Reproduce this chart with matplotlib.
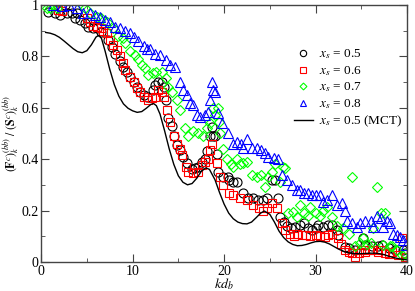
import matplotlib
matplotlib.use("Agg")
import matplotlib.pyplot as plt

plt.rcParams['font.family'] = ['Liberation Serif', 'DejaVu Serif']
plt.rcParams['mathtext.fontset'] = 'stix'

# x_s = 0.5 (black circles)
k_05 = [0.8, 1.5, 2.1, 2.6, 2.8, 3.4, 3.7, 3.9, 4.3, 4.8, 5.1, 5.7, 6.1, 6.6, 7.3, 7.8,
        8.1, 8.6, 9.0, 9.4, 9.7, 10.1, 10.5, 10.8, 11.2, 11.6, 12.2, 12.5, 12.8, 13.2,
        13.4, 13.7, 13.9, 14.3, 14.5, 14.8, 15.2, 15.5, 16.0, 16.5, 16.8, 17.2, 17.6,
        17.9, 18.1, 18.5, 18.7, 18.8, 19.0, 19.2, 19.3, 19.9, 20.4, 20.5, 21.0, 21.4,
        22.1, 22.6, 23.2, 23.7, 24.3, 24.7, 25.2, 25.6, 25.9, 26.1, 26.6, 26.9, 27.3,
        27.7, 28.3, 28.7, 29.2, 29.6, 30.0, 30.3, 30.8, 31.4, 31.8, 32.3, 32.5, 33.2,
        33.6, 34.3, 35.2, 35.4, 36.2, 36.8, 37.3, 38.0, 38.7, 39.5, 39.8]
f_05 = [0.973, 0.97, 0.96, 1.0, 0.97, 0.97, 0.95, 0.97, 0.94, 0.93, 0.915, 0.91, 0.91,
        0.895, 0.864, 0.837, 0.81, 0.78, 0.76, 0.74, 0.72, 0.70, 0.68, 0.66, 0.65, 0.64,
        0.67, 0.69, 0.70, 0.70, 0.68, 0.63, 0.56, 0.53, 0.49, 0.455, 0.436, 0.41, 0.385,
        0.36, 0.366, 0.37, 0.39, 0.40, 0.43, 0.49, 0.525, 0.49, 0.49, 0.42, 0.35, 0.33,
        0.33, 0.32, 0.31, 0.31, 0.27, 0.25, 0.25, 0.24, 0.24, 0.25, 0.32, 0.32, 0.25,
        0.175, 0.155, 0.14, 0.13, 0.136, 0.145, 0.15, 0.13, 0.125, 0.13, 0.145, 0.136,
        0.145, 0.145, 0.125, 0.105, 0.058, 0.055, 0.047, 0.093, 0.066, 0.06, 0.062,
        0.066, 0.055, 0.047, 0.047, 0.035]

# x_s = 0.6 (red squares)
k_06 = [1.9, 2.3, 5.0, 5.4, 5.7, 6.1, 6.5, 6.8, 7.2, 7.5, 7.9, 8.3, 8.6, 8.9, 9.2, 9.7,
        10.1, 10.5, 10.8, 11.2, 11.7, 12.1, 12.5, 12.8, 13.2, 13.4, 13.8, 14.1, 14.5,
        14.8, 15.2, 15.4, 15.8, 16.1, 16.6, 17.2, 17.6, 17.9, 18.2, 18.5, 18.7, 19.2,
        19.6, 19.9, 20.5, 21.0, 21.7, 22.5, 23.2, 23.8, 24.3, 24.7, 25.2, 25.8, 26.3,
        26.7, 27.2, 27.6, 28.0, 28.5, 28.9, 29.4, 30.0, 30.5, 31.0, 31.4, 31.8, 32.4,
        32.8, 33.2, 33.6, 34.0, 34.3, 34.7, 35.0, 35.4, 35.8, 36.2, 36.8, 37.2, 37.6,
        38.0, 38.4, 39.0, 39.4, 39.8, 40.0]
f_06 = [0.98, 0.975, 0.95, 0.935, 0.92, 0.915, 0.91, 0.90, 0.89, 0.864, 0.845, 0.825,
        0.80, 0.774, 0.747, 0.72, 0.70, 0.677, 0.66, 0.64, 0.63, 0.638, 0.64, 0.67, 0.66,
        0.64, 0.59, 0.545, 0.49, 0.46, 0.44, 0.415, 0.37, 0.35, 0.345, 0.35, 0.377, 0.39,
        0.40, 0.436, 0.46, 0.385, 0.33, 0.30, 0.27, 0.26, 0.25, 0.24, 0.22, 0.21, 0.20,
        0.21, 0.23, 0.21, 0.15, 0.125, 0.11, 0.10, 0.11, 0.105, 0.105, 0.10, 0.105, 0.10,
        0.097, 0.105, 0.11, 0.093, 0.07, 0.047, 0.04, 0.035, 0.02, 0.035, 0.045, 0.04,
        0.045, 0.047, 0.04, 0.045, 0.035, 0.03, 0.04, 0.027, 0.093, 0.02, 0.005]

# x_s = 0.7 (green diamonds)
k_07 = [0.6, 1.0, 1.3, 1.7, 4.5, 4.8, 5.3, 6.1, 6.6, 7.2, 7.9, 8.4, 8.9, 9.2, 9.7, 10.3,
        10.6, 11.0, 11.4, 11.7, 12.2, 12.6, 13.2, 13.6, 13.9, 14.3, 14.8, 15.2, 15.7,
        16.1, 16.6, 17.2, 17.7, 18.1, 18.5, 18.8, 19.0, 19.3, 19.4, 19.6, 19.9, 20.3,
        20.7, 21.0, 21.4, 21.7, 22.1, 22.5, 23.0, 23.6, 24.0, 24.5, 24.8, 25.2, 25.6,
        26.1, 26.4, 26.7, 27.0, 27.5, 28.0, 28.3, 28.7, 29.2, 29.4, 30.0, 30.5, 30.8,
        31.2, 31.8, 32.3, 33.0, 33.6, 34.0, 34.3, 34.8, 35.2, 35.6, 36.0, 36.3, 36.7,
        37.1, 37.4, 37.6, 38.1, 38.4, 38.9, 39.4, 39.8]
f_07 = [0.99, 0.99, 1.0, 0.99, 1.0, 0.99, 0.97, 0.955, 0.95, 0.935, 0.91, 0.88, 0.87,
        0.85, 0.82, 0.805, 0.79, 0.766, 0.755, 0.728, 0.735, 0.74, 0.74, 0.715, 0.68,
        0.66, 0.63, 0.59, 0.52, 0.49, 0.51, 0.50, 0.49, 0.52, 0.54, 0.60, 0.57, 0.60,
        0.545, 0.50, 0.44, 0.40, 0.38, 0.37, 0.40, 0.38, 0.385, 0.39, 0.34, 0.33, 0.34,
        0.29, 0.33, 0.35, 0.38, 0.31, 0.37, 0.365, 0.19, 0.195, 0.175, 0.22, 0.19, 0.18,
        0.215, 0.19, 0.18, 0.20, 0.215, 0.175, 0.14, 0.13, 0.11, 0.33, 0.06, 0.075,
        0.093, 0.07, 0.074, 0.13, 0.29, 0.19, 0.066, 0.19, 0.06, 0.06, 0.047, 0.027, 0.03]

# x_s = 0.8 (blue triangles)
k_08 = [1.3, 2.3, 3.0, 3.9, 4.6, 5.4, 5.9, 6.4, 7.0, 7.5, 8.1, 8.6, 9.2, 9.7, 10.1,
        10.6, 11.2, 11.6, 11.9, 12.5, 13.0, 13.6, 14.1, 14.6, 15.2, 15.5, 15.9, 16.3,
        16.6, 17.0, 17.4, 17.9, 18.2, 18.5, 18.7, 18.8, 19.0, 19.3, 19.8, 20.4, 21.0,
        21.4, 21.8, 22.1, 22.5, 23.0, 23.6, 24.0, 24.5, 24.8, 25.4, 25.9, 26.3, 26.9,
        27.4, 28.0, 28.3, 28.7, 29.2, 29.6, 30.0, 30.5, 30.8, 31.2, 31.8, 32.3, 32.9,
        33.2, 33.4, 34.0, 34.5, 34.9, 35.4, 36.0, 36.3, 36.7, 37.1, 37.4, 37.8, 38.1,
        38.5, 38.9, 39.2, 39.6, 39.9]
f_08 = [1.0, 0.995, 1.0, 0.99, 0.97, 0.97, 0.96, 0.955, 0.94, 0.935, 0.915, 0.91, 0.90,
        0.89, 0.875, 0.86, 0.84, 0.83, 0.83, 0.81, 0.805, 0.786, 0.767, 0.76, 0.70, 0.67,
        0.65, 0.62, 0.61, 0.57, 0.565, 0.57, 0.585, 0.63, 0.70, 0.67, 0.66, 0.58, 0.54,
        0.50, 0.46, 0.465, 0.46, 0.445, 0.48, 0.445, 0.445, 0.435, 0.425, 0.41, 0.405,
        0.40, 0.34, 0.32, 0.30, 0.28, 0.28, 0.27, 0.27, 0.26, 0.26, 0.26, 0.235, 0.24,
        0.26, 0.22, 0.23, 0.20, 0.16, 0.15, 0.136, 0.15, 0.16, 0.16, 0.136, 0.18, 0.17,
        0.136, 0.16, 0.15, 0.11, 0.105, 0.097, 0.085, 0.066]

# x_s = 0.5, MCT (solid line)
k_mct = [0.5, 1.0, 1.5, 2.0, 2.5, 3.0, 3.5, 4.0, 4.5, 5.0, 5.5, 6.0, 6.3, 6.6, 7.0, 7.5,
         8.0, 8.5, 9.0, 9.5, 10.0, 10.5, 11.0, 11.5, 12.0, 12.3, 12.6, 13.0, 13.5, 14.0,
         14.5, 15.0, 15.5, 16.0, 16.5, 17.0, 17.5, 18.0, 18.4, 19.0, 19.5, 20.0, 20.5,
         21.0, 21.5, 22.0, 22.5, 23.0, 23.5, 24.0, 24.4, 25.0, 25.5, 26.0, 26.5, 27.0,
         27.5, 28.0, 28.5, 29.0, 29.5, 30.0, 30.5, 31.0, 31.5, 32.0, 32.5, 33.0, 33.5,
         34.0, 34.5, 35.0, 35.5, 36.0, 36.5, 37.0, 37.5, 38.0, 38.5, 39.0, 39.5, 40.0]
f_mct = [0.893, 0.89, 0.884, 0.874, 0.86, 0.845, 0.83, 0.818, 0.814, 0.822, 0.845, 0.875,
         0.882, 0.87, 0.82, 0.75, 0.69, 0.645, 0.615, 0.598, 0.588, 0.582, 0.585, 0.598,
         0.613, 0.616, 0.608, 0.575, 0.51, 0.44, 0.38, 0.335, 0.31, 0.30, 0.305, 0.325,
         0.352, 0.366, 0.36, 0.32, 0.27, 0.225, 0.19, 0.168, 0.155, 0.149, 0.148, 0.155,
         0.172, 0.19, 0.198, 0.185, 0.155, 0.12, 0.095, 0.078, 0.068, 0.063, 0.064, 0.068,
         0.074, 0.079, 0.08, 0.077, 0.07, 0.06, 0.05, 0.042, 0.036, 0.033, 0.032, 0.032,
         0.033, 0.034, 0.034, 0.032, 0.028, 0.022, 0.017, 0.013, 0.01, 0.008]

fig = plt.figure(figsize=(4.15, 2.91), dpi=100)
ax = fig.add_axes([0.099, 0.10, 0.882, 0.883])

ms = 6.5
mew = 0.8
ax.plot(k_05, f_05, 'o', ms=ms, mfc='none', mec='black', mew=mew, label=r'$x_s$ = 0.5')
ax.plot(k_06, f_06, 's', ms=ms - 0.5, mfc='none', mec='red', mew=mew, label=r'$x_s$ = 0.6')
ax.plot(k_07, f_07, 'D', ms=ms - 1.5, mfc='none', mec='#00ff00', mew=mew, label=r'$x_s$ = 0.7')
ax.plot(k_08, f_08, '^', ms=ms, mfc='none', mec='blue', mew=mew, label=r'$x_s$ = 0.8')
ax.plot(k_mct, f_mct, '-', color='black', lw=1.0, label=r'$x_s$ = 0.5 (MCT)')

ax.set_xlim(0, 40)
ax.set_ylim(0, 1)
ax.set_xticks([0, 10, 20, 30, 40])
ax.set_xticks([5, 15, 25, 35], minor=True)
ax.set_yticks([0, 0.2, 0.4, 0.6, 0.8, 1.0])
ax.set_yticklabels(['0', '0.2', '0.4', '0.6', '0.8', '1'])
ax.set_yticks([0.1, 0.3, 0.5, 0.7, 0.9], minor=True)
ax.tick_params(which='both', direction='in', top=True, right=True, labelsize=10,
               color='#444444', pad=2)
ax.tick_params(which='major', length=6)
ax.tick_params(which='minor', length=3)
for s in ax.spines.values():
    s.set_color('#444444')
    s.set_linewidth(1.0)

ax.set_xlabel(r'$kd_b$', fontsize=10, labelpad=-1)
ax.set_ylabel(r'$(\mathbf{F}^c)_k^{(bb)}\ /\ (\mathbf{S}^c)_k^{(bb)}$', fontsize=8.5)
ax.yaxis.set_label_coords(-0.055, 0.5)

ax.legend(loc='upper right', bbox_to_anchor=(1.02, 0.88), frameon=False, numpoints=1,
          fontsize=9.5, handlelength=1.4, handletextpad=0.5, labelspacing=0.2,
          handleheight=0.6, markerscale=0.7)

fig.savefig('out.png', dpi=100)
